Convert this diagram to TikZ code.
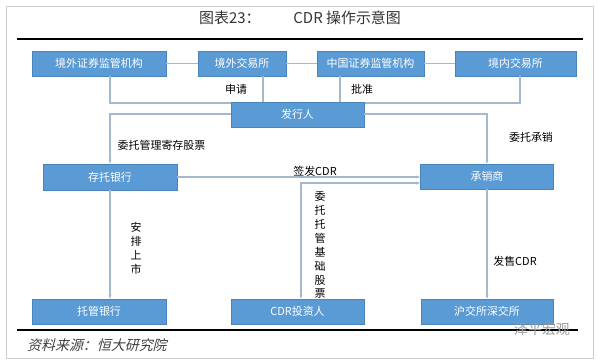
\documentclass[tikz,border=0pt]{standalone}
\usepackage{fontspec}
\setmainfont{Noto Sans CJK SC}
\newfontfamily\cjkit{Noto Sans CJK SC}[FakeSlant=0.25]
\usetikzlibrary{arrows.meta}
\definecolor{boxblue}{HTML}{5B9BD5}
\definecolor{boxedge}{HTML}{4A84BC}
\definecolor{linec}{HTML}{A3B9CE}
\definecolor{framec}{HTML}{CCCCCC}
\tikzset{
  bluebox/.style={draw=boxedge, line width=0.6pt, fill=boxblue, text=white,
    minimum height=25bp, inner sep=0pt, font=\fontsize{11pt}{13pt}\selectfont},
  conn/.style={draw=linec, line width=1.1pt},
  tip/.style={-{Stealth[length=4pt,width=3pt]}},
  lbl/.style={text=black, font=\fontsize{11pt}{13pt}\selectfont, inner sep=0pt},
  vlbl/.style={text=black, font=\fontsize{11pt}{14pt}\selectfont, inner sep=0pt, align=center}
}
\begin{document}
\begin{tikzpicture}[x=1bp,y=-1bp]
\useasboundingbox (0,0) rectangle (598,363);
\draw[framec, line width=0.8pt] (6,6) rectangle (593,358);
% title
\node[text=black!80, font=\fontsize{15pt}{17pt}\selectfont, inner sep=0pt] (title) at (300,18) {图表23：\hspace{2.2em}CDR 操作示意图};
\draw[black, line width=2.4pt] (17,39) -- (583,39);
% coordinates for junctions
\coordinate (j1) at (110,103);
\coordinate (j2) at (263,103);
\coordinate (j3) at (340,103);
\coordinate (j4) at (520,103);
\coordinate (kk) at (301,183);
\coordinate (rr) at (487,114);
\coordinate (ll) at (110,114);
% top row
\node[bluebox, minimum width=134bp] (b1) at (99,63.5) {境外证券监管机构};
\node[bluebox, minimum width=88bp] (b2) at (242,63.5) {境外交易所};
\node[bluebox, minimum width=107bp] (b3) at (370.5,63.5) {中国证券监管机构};
\node[bluebox, minimum width=121bp] (b4) at (515.5,63.5) {境内交易所};
% connectors (behind the middle box)
\draw[conn] (b1.east) -- (b2.west);
\draw[conn] (b2.east) -- (b3.west);
\draw[conn] (b3.east) -- (b4.west);
\draw[conn] (b1.south -| j1) -- (j1) -- (j4) -- (b4.south -| j4);
\draw[conn] (b2.south -| j2) -- (j2);
\draw[conn] (b3.south -| j3) -- (j3);
% other boxes
\node[bluebox, minimum width=133bp] (fx) at (297.5,114.5) {发行人};
\node[bluebox, minimum width=134bp, minimum height=26bp] (ct) at (110,177) {存托银行};
\node[bluebox, minimum width=133bp] (cx) at (487,176.5) {承销商};
\node[bluebox, minimum width=134bp] (tg) at (99,311.5) {托管银行};
\node[bluebox, minimum width=133bp] (inv) at (297.5,311.5) {CDR投资人};
\node[bluebox, minimum width=132bp] (hs) at (487,311.5) {沪交所深交所};
% connectors
\draw[conn, tip] (fx.west |- ll) -- (ll) -- (ct.north);
\draw[conn, tip] (fx.east |- rr) -- (rr) -- (cx.north);
\draw[conn, tip] (ct.east) -- (ct.east -| cx.west);
\draw[conn, {Stealth[length=4pt,width=3pt]}-{Stealth[length=4pt,width=3pt]}] (kk -| cx.west) -- (kk) -- (kk |- inv.north);
\draw[conn, tip] (ct.south) -- (ct.south |- tg.north);
\draw[conn, tip] (cx.south) -- (hs.north);
% labels
\node[lbl] (l1) at (236,89) {申请};
\node[lbl] (l2) at (362,89) {批准};
\node[lbl] (l3) at (161.5,145) {委托管理寄存股票};
\node[lbl] (l4) at (531,137) {委托承销};
\node[lbl] (l5) at (315,171) {签发CDR};
\node[vlbl] (l6) at (136,248) {安\\排\\上\\市};
\node[vlbl] (l7) at (320,245) {委\\托\\托\\管\\基\\础\\股\\票};
\node[lbl] (l8) at (515,261) {发售CDR};
% bottom
\draw[black, line width=2.2pt] (17,330) -- (578,330);
\node[text=black!40, font=\fontsize{14pt}{16pt}\selectfont, inner sep=0pt] (wm) at (542,329) {泽平宏观};
\node[text=black!75, font=\cjkit\fontsize{14pt}{16pt}\selectfont, inner sep=0pt, anchor=west] (src) at (27,345) {资料来源：恒大研究院};
\end{tikzpicture}
\end{document}
